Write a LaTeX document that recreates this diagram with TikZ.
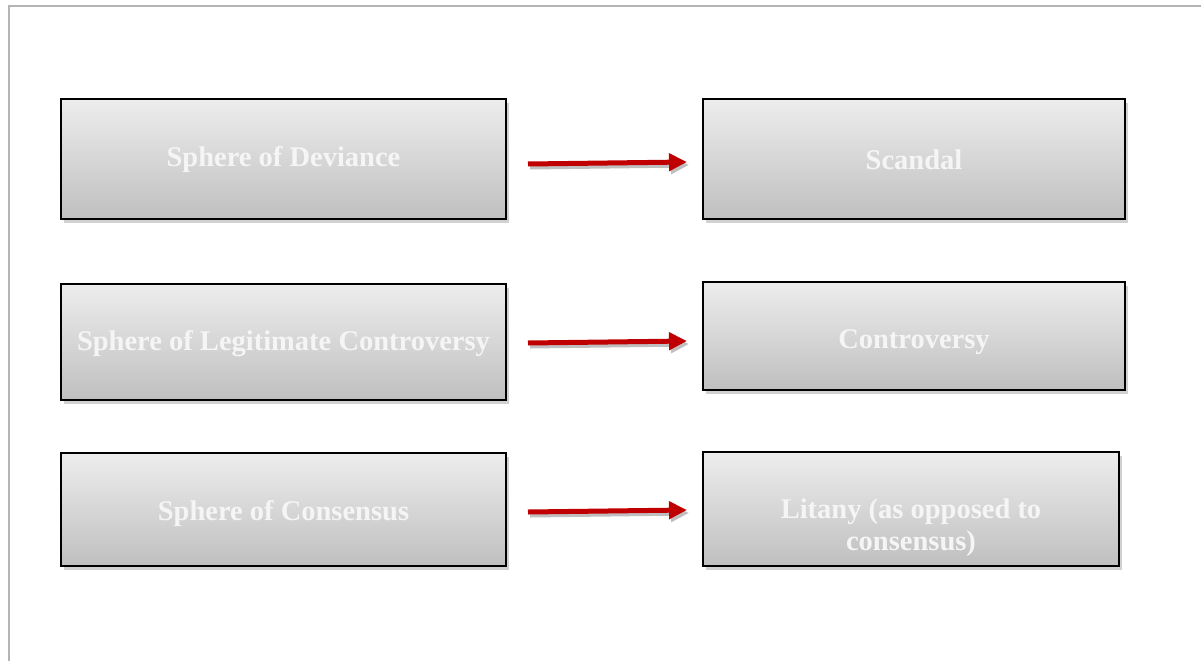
\documentclass[tikz,border=0pt]{standalone}
\usepackage{fontspec}
\setmainfont{Liberation Serif}
\usetikzlibrary{shadows,arrows.meta,positioning}
\definecolor{arrred}{HTML}{C00000}
\definecolor{frameg}{HTML}{B4B4B4}
\begin{document}
\begin{tikzpicture}[x=1pt,y=-1pt,
  box/.style={draw=black,line width=1.8pt,top color=black!7,bottom color=black!25,
    drop shadow={shadow xshift=3pt,shadow yshift=-4pt,opacity=0.3,fill=black!60},
    inner sep=0pt},
  lbl/.style={text=white!96!black,font=\bfseries\fontsize{28.5}{32}\selectfont,align=center},
  arr/.style={arrred,line width=5pt,-{Triangle[length=18pt,width=17pt]},
    preaction={draw=black!25,line width=5pt,transform canvas={xshift=2pt,yshift=-3pt},-{Triangle[length=18pt,width=17pt]}}}
]
\useasboundingbox (0,0) rectangle (1201,661);
\draw[frameg,line width=2pt] (9,661) -- (9,6) -- (1201,6);
% left boxes
\node[box,minimum width=445pt,minimum height=120pt] (l1) at (283.5,159) {};
\node[lbl] (l1t) at (283.5,159.5) {Sphere of Deviance};
\node[box,minimum width=445pt,minimum height=116pt] (l2) at (283.5,342) {};
\node[lbl] (l2t) at (283.5,343.5) {Sphere of Legitimate Controversy};
\node[box,minimum width=445pt,minimum height=113pt] (l3) at (283.5,509.5) {};
\node[lbl] (l3t) at (283.5,513.5) {Sphere of Consensus};
% right boxes
\node[box,minimum width=422pt,minimum height=120pt] (r1) at (914,159) {};
\node[lbl] (r1t) at (914,159.5) {Scandal};
\node[box,minimum width=422pt,minimum height=108pt] (r2) at (914,336) {};
\node[lbl] (r2t) at (914,342.5) {Controversy};
\node[box,minimum width=416pt,minimum height=114pt] (r3) at (911,509) {};
\node[lbl] (r3t) at (911,528) {Litany (as opposed to\\consensus)};
% arrows
\coordinate (a1s) at (528,164); \coordinate (a1e) at (687,162);
\coordinate (a2s) at (528,343); \coordinate (a2e) at (687,341);
\coordinate (a3s) at (528,512); \coordinate (a3e) at (687,510);
\draw[arr] (a1s) -- (a1e);
\draw[arr] (a2s) -- (a2e);
\draw[arr] (a3s) -- (a3e);
\end{tikzpicture}
\end{document}
